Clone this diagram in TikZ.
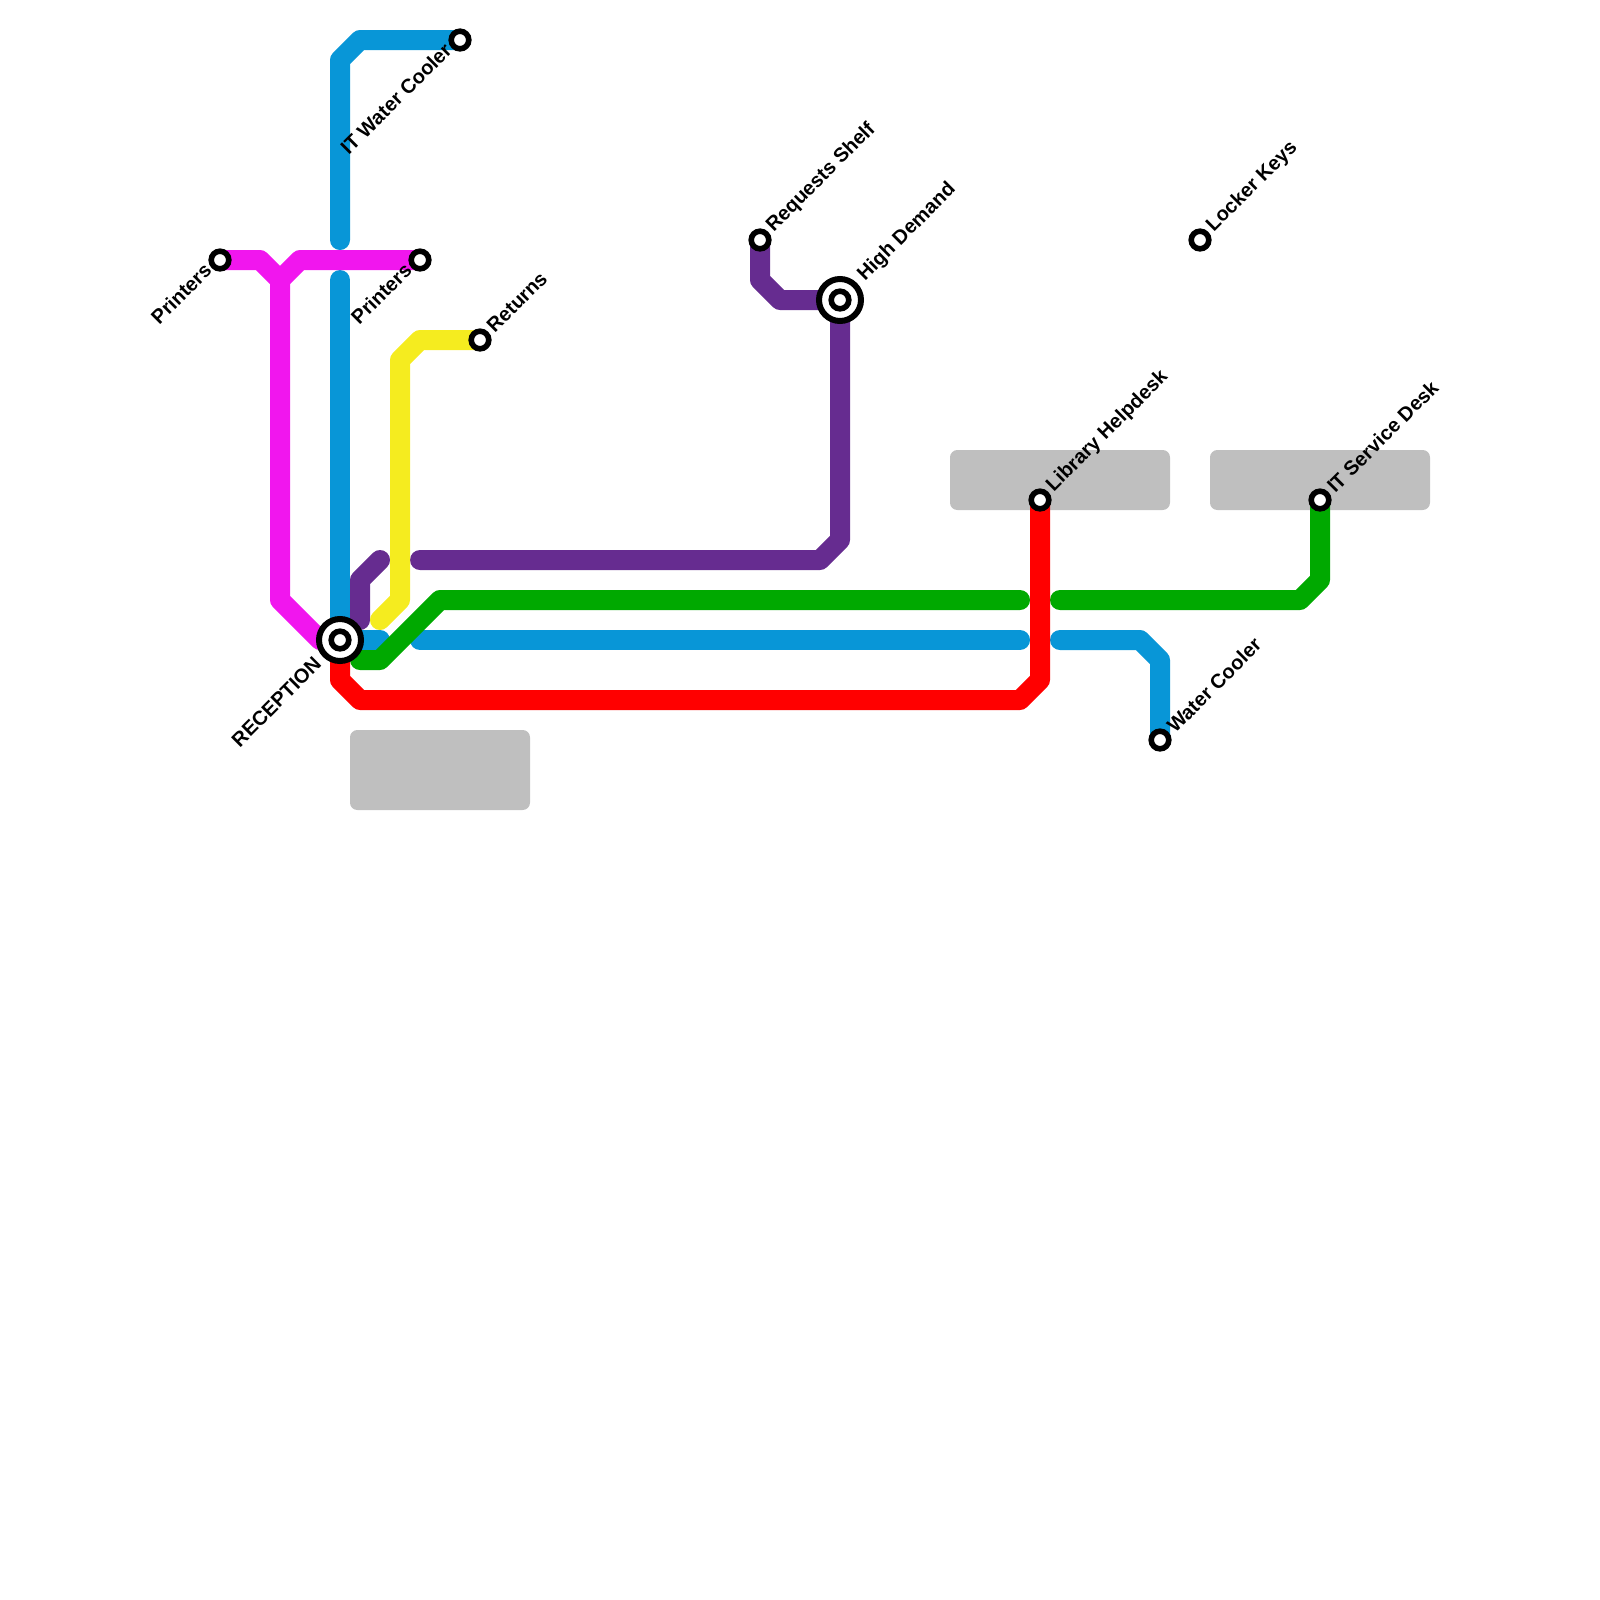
\documentclass[tikz,border=0pt]{standalone}
\usepackage{fontspec}
\setmainfont{Liberation Sans}
\usepackage{xcolor}
\definecolor{lineblue}{HTML}{0896D7}
\definecolor{linemagenta}{HTML}{F116EE}
\definecolor{linepurple}{HTML}{662C90}
\definecolor{lineyellow}{HTML}{F5EC1F}
\definecolor{linegreen}{HTML}{00A900}
\definecolor{linered}{HTML}{FF0000}
\definecolor{blockgray}{HTML}{BFBFBF}
\tikzset{
route/.style={line width=15pt,line cap=round,line join=round},
block/.style={fill=blockgray,rounded corners=5.5pt},
stop/.style={circle,draw=black,fill=white,line width=4.2pt,minimum size=13.2pt,inner sep=0pt},
hub/.style={circle,draw=black,fill=white,line width=4.5pt,minimum size=31.5pt,inner sep=0pt},
namer/.style={xshift=7.5pt,yshift=8.2pt,rotate=45,anchor=west,inner sep=0pt},
namel/.style={xshift=-9pt,yshift=-4.9pt,rotate=45,anchor=east,inner sep=0pt},
}
\begin{document}
\begin{tikzpicture}[x=0.75pt,y=-0.75pt,font=\fontsize{15}{15}\selectfont\bfseries]
\useasboundingbox (0,0) rectangle (1600,1600);
% stations
\coordinate (reception) at (340,640);
\coordinate (demand) at (840,300);
\coordinate (cooler) at (460,40);
\coordinate (printersw) at (220,260);
\coordinate (printerse) at (420,260);
\coordinate (returns) at (480,340);
\coordinate (shelf) at (760,240);
\coordinate (keys) at (1200,240);
\coordinate (helpdesk) at (1040,500);
\coordinate (service) at (1320,500);
\coordinate (water) at (1160,740);
% buildings
\fill[block] (350,730) rectangle (530,810);
\fill[block] (950,450) rectangle (1170,510);
\fill[block] (1210,450) rectangle (1430,510);
% routes
\draw[route,lineblue] (340,240) -- (340,60) -- (360,40) -- (cooler);
\draw[route,lineblue] (340,280) -- (reception) -- (380,640);
\draw[route,lineblue] (420,640) -- (1020,640);
\draw[route,lineblue] (1060,640) -- (1140,640) -- (1160,660) -- (water);
\draw[route,linemagenta] (printersw) -- (260,260) -- (280,280) -- (300,260) -- (printerse);
\draw[route,linemagenta] (280,280) -- (280,600) -- (320,640) -- (reception);
\draw[route,linepurple] (380,560) -- (360,580) -- (360,620);
\draw[route,linepurple] (420,560) -- (820,560) -- (840,540) -- (demand);
\draw[route,linepurple] (shelf) -- (760,280) -- (780,300) -- (demand);
\draw[route,lineyellow] (380,620) -- (400,600) -- (400,360) -- (420,340) -- (returns);
\draw[route,linegreen] (360,660) -- (380,660) -- (440,600) -- (1020,600);
\draw[route,linegreen] (1060,600) -- (1300,600) -- (1320,580) -- (service);
\draw[route,linered] (reception) -- (340,680) -- (360,700) -- (1020,700) -- (1040,680) -- (helpdesk);
% stops
\node[hub] (receptionhub) at (reception) {};
\node[stop] (receptionstop) at (reception) {};
\node[hub] (demandhub) at (demand) {};
\node[stop] (demandstop) at (demand) {};
\node[stop] (coolerstop) at (cooler) {};
\node[stop] (printerswstop) at (printersw) {};
\node[stop] (printersestop) at (printerse) {};
\node[stop] (returnsstop) at (returns) {};
\node[stop] (shelfstop) at (shelf) {};
\node[stop] (keysstop) at (keys) {};
\node[stop] (helpdeskstop) at (helpdesk) {};
\node[stop] (servicestop) at (service) {};
\node[stop] (waterstop) at (water) {};
% names
\node[xshift=-16.7pt,yshift=-15.4pt,rotate=45,anchor=east,inner sep=0pt] (receptionname) at (reception) {RECEPTION};
\node[xshift=16pt,yshift=16.5pt,rotate=45,anchor=west,inner sep=0pt] (demandname) at (demand) {High Demand};
\node[namel] (coolername) at (cooler) {IT Water Cooler};
\node[namel] (printerswname) at (printersw) {Printers};
\node[namel] (printersename) at (printerse) {Printers};
\node[namer] (returnsname) at (returns) {Returns};
\node[namer] (shelfname) at (shelf) {Requests Shelf};
\node[namer] (keysname) at (keys) {Locker Keys};
\node[namer] (helpdeskname) at (helpdesk) {Library Helpdesk};
\node[namer] (servicename) at (service) {IT Service Desk};
\node[namer] (watername) at (water) {Water Cooler};
\end{tikzpicture}
\end{document}
